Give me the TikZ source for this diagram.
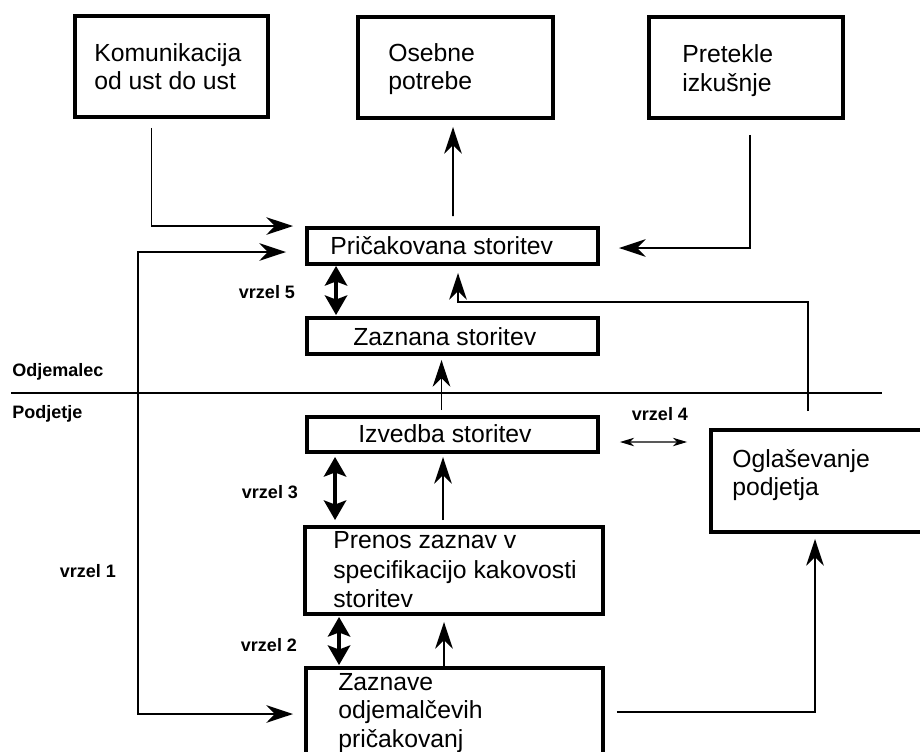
\documentclass[tikz,border=0pt]{standalone}
\usepackage{fontspec}
\setmainfont{Liberation Sans}
\usetikzlibrary{arrows.meta,calc}
\begin{document}
\begin{tikzpicture}[x=0.025cm,y=-0.025cm,
  box/.style args={#1 by #2}{draw,line width=2.8pt,inner sep=0pt,
    minimum width=#1*0.025cm,minimum height=#2*0.025cm},
  txt/.style={anchor=base west,inner sep=0pt,font=\fontsize{17.6}{20}\selectfont},
  lab/.style={inner sep=0pt,font=\bfseries\fontsize{12.8}{14}\selectfont},
  arr/.style={line width=1.4pt,-{Stealth[length=19pt,width=12.5pt,inset=6pt]}},
  both/.style={line width=1.4pt,{Stealth[length=19pt,width=12.5pt,inset=6pt]}-{Stealth[length=19pt,width=12.5pt,inset=6pt]}},
  gap/.style={line width=2.2pt,{Stealth[length=14pt,width=16pt,inset=3pt]}-{Stealth[length=14pt,width=16pt,inset=3pt]}},
  smallgap/.style={line width=0.8pt,{Stealth[length=10pt,width=6pt,inset=3pt]}-{Stealth[length=10pt,width=6pt,inset=3pt]}},
  sep/.style={line width=1pt}
]
\useasboundingbox (0,0) rectangle (920,751);
\clip (0,0) rectangle (920,751);

% boxes
\node[box=193 by 101] (ko) at (171.5,66.5) {};
\node[box=195 by 101] (os) at (455.5,67.5) {};
\node[box=194 by 101] (pr) at (746,67.5) {};
\node[box=291 by 36] (pc) at (452.5,246) {};
\node[box=291 by 36] (zs) at (452.5,336) {};
\node[box=291 by 35] (iz) at (452.5,434.5) {};
\node[box=298 by 87] (pn) at (454,570.5) {};
\node[box=297 by 132] (za) at (454.5,734) {};
\node[box=249 by 102] (og) at (835.5,481) {};

% box texts
\node[txt] (ko1) at (94,61) {Komunikacija};
\node[txt] (ko2) at (94,89) {od ust do ust};
\node[txt] (os1) at (388,61) {Osebne};
\node[txt] (os2) at (388,89) {potrebe};
\node[txt] (pr1) at (682,62) {Pretekle};
\node[txt] (pr2) at (682,91) {izkušnje};
\node[txt] (pc1) at (330,254) {Pričakovana storitev};
\node[txt] (zs1) at (353,345) {Zaznana storitev};
\node[txt] (iz1) at (358,442) {Izvedba storitev};
\node[txt] (pn1) at (333,548) {Prenos zaznav v};
\node[txt] (pn2) at (333,578) {specifikacijo kakovosti};
\node[txt] (pn3) at (333,607) {storitev};
\node[txt] (za1) at (338,690) {Zaznave};
\node[txt] (za2) at (338,718) {odjemalčevih};
\node[txt] (za3) at (338,747) {pričakovanj};
\node[txt] (og1) at (732,467) {Oglaševanje};
\node[txt] (og2) at (732,495) {podjetja};

% labels
\node[lab] (v5) at (267,292) {vrzel 5};
\node[lab] (v3) at (270,492) {vrzel 3};
\node[lab] (v2) at (269,645) {vrzel 2};
\node[lab] (v1) at (88,571) {vrzel 1};
\node[lab] (v4) at (660,414) {vrzel 4};
\node[lab,anchor=west] (odj) at (12,372) {Odjemalec};
\node[lab,anchor=west] (pod) at (12,414) {Podjetje};

% separator
\coordinate (sepL) at (11,393);
\coordinate (sepR) at (882,393);
\draw[sep] (sepL) -- (sepR);

% connectors
\draw[arr] ($(ko.south)+(-20,9)$) |- ($(pc.north west)+(-12,0)$);
\coordinate (v1a) at (138,252);
\coordinate (v1b) at (138,714);
\draw[both] ($(pc.west)+(-19,6)$) -- (v1a) -- (v1b) -- ($(za.west)+(-11,-20)$);
\draw[arr] ($(pc.north)+(0.5,-10)$) -- ($(os.south)+(-2.5,7)$);
\draw[arr] ($(pr.south)+(4,15)$) |- ($(pc.east)+(19,2)$);
\draw[arr] ($(og.north)+(-27.5,-17)$) |- ($(pc.south)+(5.5,36)$) -- ($(pc.south)+(5.5,7)$);
\draw[gap] ($(pc.south west)+(31,0)$) -- ($(zs.north west)+(31,-1)$);
\draw[arr] ($(iz.north)+(-11,-5)$) -- ($(zs.south)+(-11,4)$);
\draw[gap] ($(iz.south west)+(30,3)$) -- ($(pn.north west)+(32,-5)$);
\draw[arr] ($(pn.north)+(-11,-5)$) -- ($(iz.south)+(-9.5,3)$);
\draw[gap] ($(pn.south west)+(36,1)$) -- ($(za.north west)+(35,-1)$);
\draw[arr] ($(za.north)+(-10.5,0)$) -- ($(pn.south)+(-10,6)$);
\draw[arr] ($(za.east)+(12,-22)$) -| ($(og.south)+(-20.5,5)$);
\draw[smallgap] ($(iz.east)+(20,7.5)$) -- ($(og.west)+(-22,-39)$);
\end{tikzpicture}
\end{document}
